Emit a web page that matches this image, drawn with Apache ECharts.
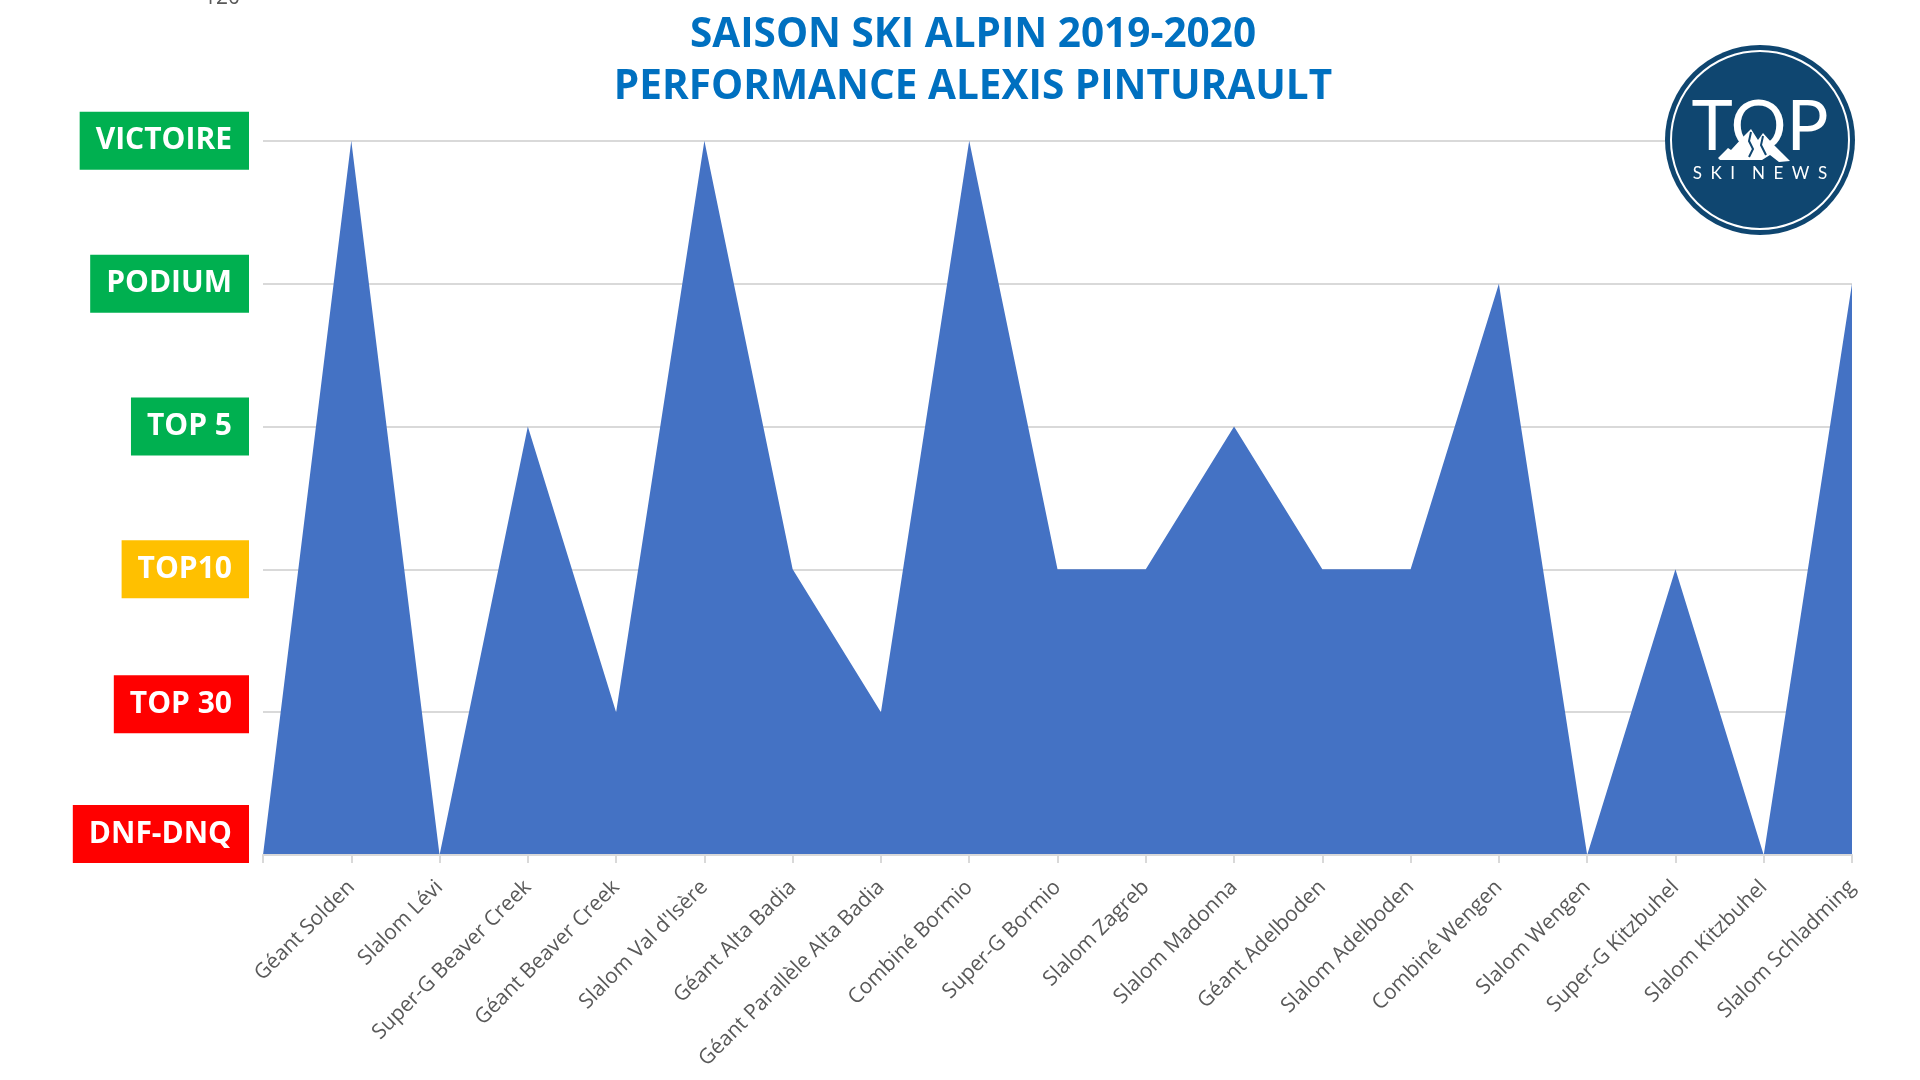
<!DOCTYPE html>
<html><head><meta charset="utf-8">
<script src="https://cdn.jsdelivr.net/npm/echarts@6/dist/echarts.min.js"></script>
<style>html,body{margin:0;padding:0;background:#fff}#c{width:1920px;height:1080px}</style>
</head><body><div id="c"></div>
<script>
// ---- data ----
const categories = ['', 'Géant Solden', 'Slalom Lévi', 'Super-G Beaver Creek', 'Géant Beaver Creek',
  "Slalom Val d'Isère", 'Géant Alta Badia', 'Géant Parallèle Alta Badia', 'Combiné Bormio',
  'Super-G Bormio', 'Slalom Zagreb', 'Slalom Madonna', 'Géant Adelboden', 'Slalom Adelboden',
  'Combiné Wengen', 'Slalom Wengen', 'Super-G Kitzbuhel', 'Slalom Kitzbuhel', 'Slalom Schladming'];
const performance = [0, 100, 0, 60, 20, 100, 40, 20, 100, 40, 40, 60, 40, 40, 80, 0, 40, 0, 80];
const yTickValues = [0, 20, 40, 60, 80, 100, 120];
const yTickLabels = ['DNF-DNQ', 'TOP 30', 'TOP10', 'TOP 5', 'PODIUM', 'VICTOIRE', '120'];
const titleLines = ['SAISON SKI ALPIN 2019-2020', 'PERFORMANCE ALEXIS PINTURAULT'];
const logoWord = 'TOP';
const logoSub = 'S\u2002K\u2002I\u2002\u2002N\u2002E\u2002W\u2002S';

// ---- styles ----
const labelStyleKey = { 0: 'r0', 20: 'r20', 40: 'y', 60: 'g', 80: 'g', 100: 'g', 120: 'plain' };
const boxBase = { color: '#ffffff', fontWeight: 'bold', fontSize: 30, lineHeight: 30,
  fontFamily: 'Open Sans', padding: [14, 17, 14, 16] };
const NAVY = '#0F4670';

const chart = echarts.init(document.getElementById('c'), null, { renderer: 'canvas' });

function yFormatter(v) {
  const i = yTickValues.indexOf(v);
  if (i < 0) return '';
  const key = labelStyleKey[v];
  const txt = yTickLabels[i];
  if (key === 'r0') return '{r|' + txt + '}\n{gap0| }';
  if (key === 'r20') return '{r|' + txt + '}\n{gap20| }';
  return '{' + key + '|' + txt + '}';
}

const option = {
  backgroundColor: '#ffffff',
  animation: false,
  title: {
    text: titleLines.join('\n'),
    left: 973, top: 9, padding: 0,
    textAlign: 'center',
    textStyle: { color: '#0070C0', fontFamily: 'Open Sans', fontWeight: 'bold', fontSize: 40.5, lineHeight: 52 }
  },
  grid: { left: 263, right: 68, top: -2, bottom: 225, containLabel: false, outerBoundsMode: 'none' },
  xAxis: {
    type: 'category',
    data: categories,
    boundaryGap: false,
    z: 3,
    axisLine: { show: true, lineStyle: { color: '#D9D9D9', width: 2 } },
    axisTick: { show: true, interval: 0, length: 8, lineStyle: { color: '#D9D9D9', width: 2 } },
    axisLabel: { interval: 0, rotate: 45, margin: 29, color: '#595959', fontSize: 21, fontFamily: 'Open Sans' },
    splitLine: { show: false }
  },
  yAxis: {
    type: 'value',
    min: 0, max: 120, interval: 20,
    axisLine: { show: false },
    axisTick: { show: false },
    splitLine: { show: true, lineStyle: { color: '#D9D9D9', width: 2 } },
    axisLabel: {
      margin: 14,
      formatter: yFormatter,
      rich: {
        g: Object.assign({}, boxBase, { backgroundColor: '#00B050' }),
        y: Object.assign({}, boxBase, { backgroundColor: '#FFC000' }),
        r: Object.assign({}, boxBase, { backgroundColor: '#FF0000' }),
        gap0: { height: 42, lineHeight: 42, fontSize: 1 },
        gap20: { height: 16, lineHeight: 16, fontSize: 1 },
        plain: { color: '#595959', fontSize: 21, fontFamily: 'Open Sans', padding: [0, 9, 0, 0] }
      }
    }
  },
  series: [{
    type: 'line',
    data: performance,
    showSymbol: false,
    symbol: 'none',
    lineStyle: { width: 0, color: '#4472C4' },
    areaStyle: { color: '#4472C4', opacity: 1 },
    itemStyle: { color: '#4472C4' }
  }],
  graphic: [{
    type: 'group',
    left: 1665, top: 45, z: 100,
    children: [
      { type: 'circle', z: 100, shape: { cx: 95, cy: 95, r: 95 }, style: { fill: NAVY } },
      { type: 'circle', z: 101, shape: { cx: 95, cy: 95, r: 89 }, style: { fill: 'none', stroke: '#ffffff', lineWidth: 2 } },
      { type: 'text', z: 102, x: 95, y: 82, style: { text: logoWord, fill: '#ffffff', fontFamily: 'Lato', fontSize: 70,
          fontWeight: 'normal', align: 'center', verticalAlign: 'middle' } },
      { type: 'polygon', z: 103, shape: { points: [[53,113],[63,103],[66,105],[78,92],[86,84],[93,95],[98,88],[107,98],[117,108],[125,116],[114,117],[105,110],[97,115],[55,115]] },
        style: { fill: '#ffffff' } },
      { type: 'polyline', z: 104, shape: { points: [[86,87],[84,96],[88,104],[84,112]] }, style: { stroke: NAVY, lineWidth: 2, fill: 'none' } },
      { type: 'polyline', z: 104, shape: { points: [[98,91],[96,100],[101,110]] }, style: { stroke: NAVY, lineWidth: 2, fill: 'none' } },
      { type: 'text', z: 102, x: 95, y: 129, style: { text: logoSub, fill: '#ffffff', fontFamily: 'Lato', fontSize: 17,
          align: 'center', verticalAlign: 'middle' } }
    ]
  }]
};
chart.setOption(option);
</script>
</body></html>
